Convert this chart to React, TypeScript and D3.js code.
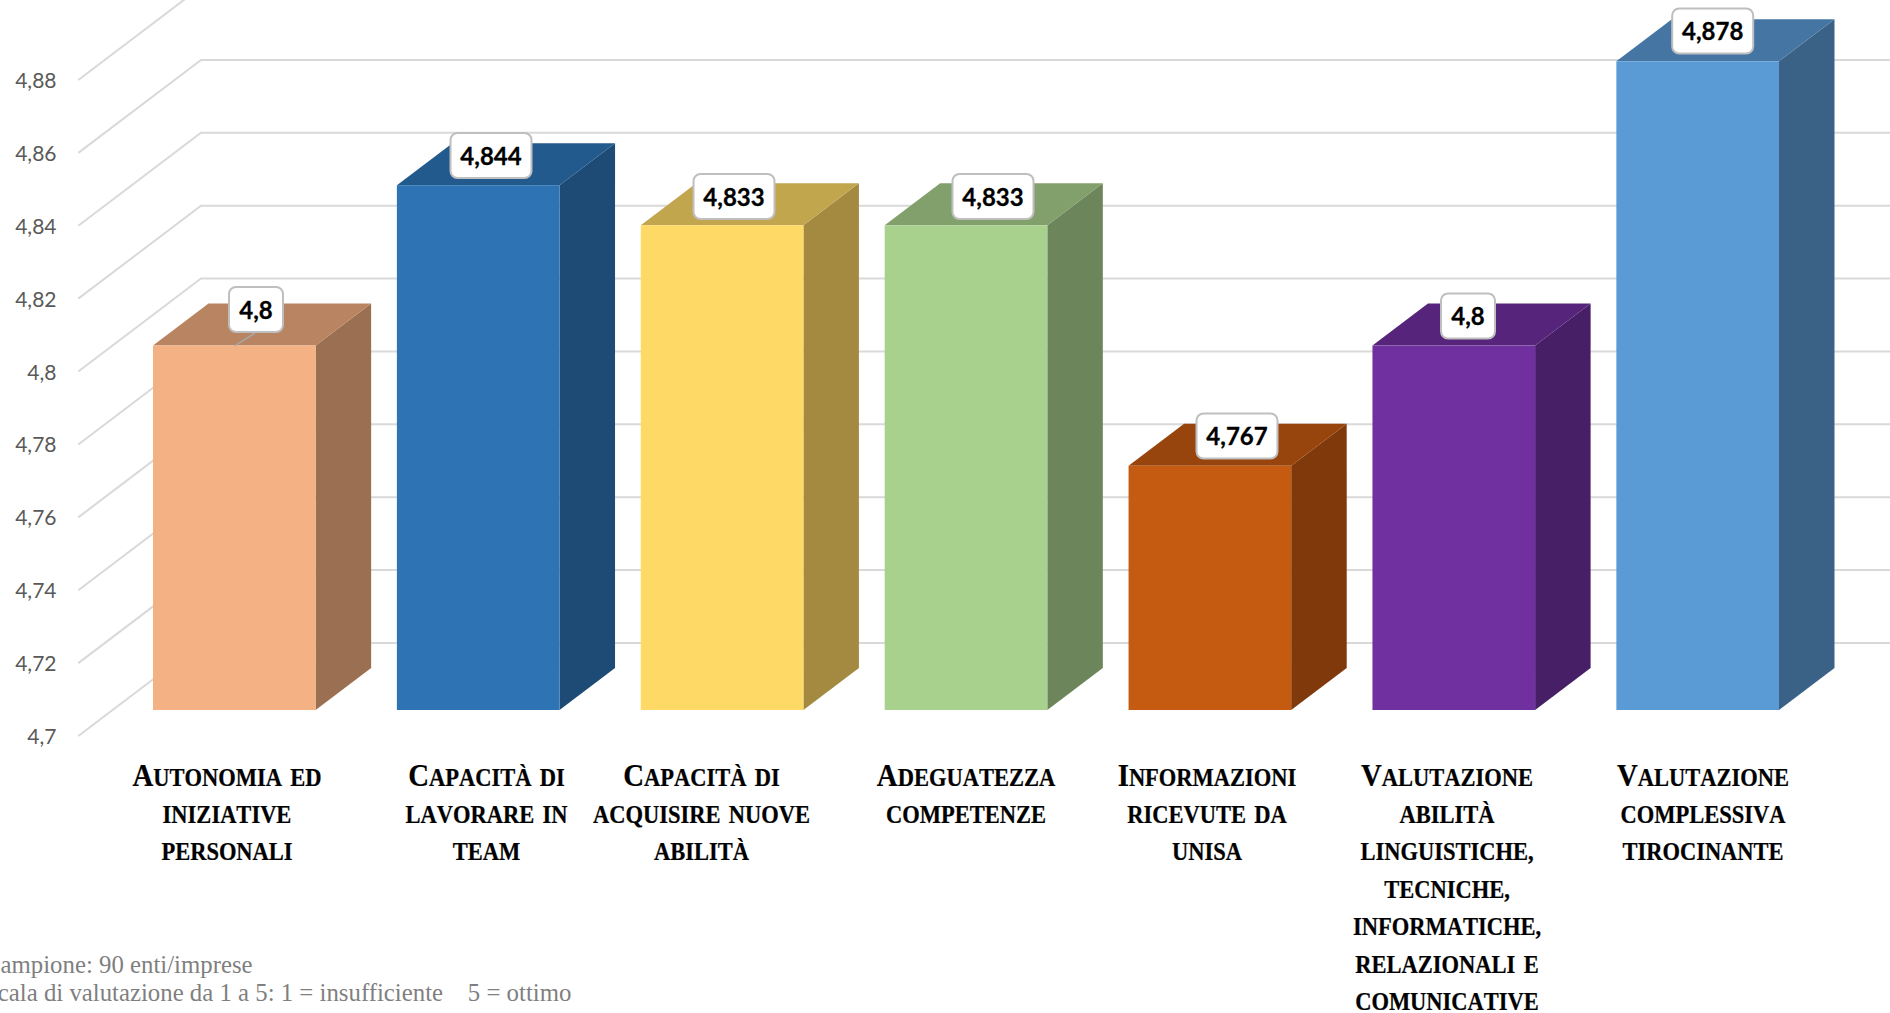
import React from "react";
import * as d3 from "d3";

const categories = [
  ["Autonomia ed", "iniziative", "personali"],
  ["Capacità di", "lavorare in", "team"],
  ["Capacità di", "acquisire nuove", "abilità"],
  ["Adeguatezza", "competenze"],
  ["Informazioni", "ricevute da", "unisa"],
  ["Valutazione", "abilità", "linguistiche,", "tecniche,", "informatiche,", "relazionali e", "comunicative"],
  ["Valutazione", "complessiva", "tirocinante"],
];
const values = [4.8, 4.844, 4.833, 4.833, 4.767, 4.8, 4.878];
const valueLabels = ["4,8", "4,844", "4,833", "4,833", "4,767", "4,8", "4,878"];
const tickValues = [4.7, 4.72, 4.74, 4.76, 4.78, 4.8, 4.82, 4.84, 4.86, 4.88];
const tickLabels = ["4,7", "4,72", "4,74", "4,76", "4,78", "4,8", "4,82", "4,84", "4,86", "4,88"];
const footnotes = ["Campione: 90 enti/imprese", "Scala di valutazione da 1 a 5: 1 = insufficiente    5 = ottimo"];

const faceColors = ["#F4B183", "#2E74B5", "#FFD966", "#A9D18E", "#C55A11", "#7030A0", "#5B9BD5"];
const topColors = ["#B98461", "#225A8D", "#C1A64E", "#82A06C", "#97450D", "#56247A", "#4576A3"];
const sideColors = ["#9B7052", "#1E4B76", "#A38A40", "#6C855A", "#7F390B", "#471F66", "#3A6286"];

// Layout (hand-placed elements in the source chart)
const labelCenters = [227, 486.5, 701.5, 966, 1207, 1447, 1703];
const boxCenters: [number, number][] = [[256, 309.5], [491, 155.5], [734, 196.5], [993, 196.5], [1237, 436], [1468, 316], [1712.7, 31]];

const W = 1890, H = 1013;
const yAxis = d3.scaleLinear().domain([4.7, 4.88]).range([736, 80]);
const yFace = d3.scaleLinear().domain([4.7, 4.88]).range([710, 54]);
const x = d3.scaleBand<number>().domain(d3.range(values.length)).range([153, 1779]).paddingInner(1 - 162.5 / 243.67);
const axisX = 78.3, backX = 201, axisRise = 93;
const depthX = 55.5, depthY = 42;
const line = d3.line();

const BIG = 32, SMALL = 25;

function SmallCaps({ text }: { text: string }) {
  const chars = Array.from(text);
  return (
    <>
      {chars.map((c, i) => {
        const upper = c === c.toUpperCase() && c !== c.toLowerCase();
        return <tspan key={i} fontSize={upper ? BIG : SMALL}>{c.toUpperCase()}</tspan>;
      })}
    </>
  );
}

export default function App() {
  const bw = x.bandwidth();
  return (
    <svg width={W} height={H} viewBox={`0 0 ${W} ${H}`} style={{ position: "absolute", left: 0, top: 0, display: "block", background: "#fff" }}>
      {tickValues.map((v, i) => {
        const yf = yAxis(v);
        return (
          <g key={v}>
            <path d={line([[axisX, yf], [backX, yf - axisRise], [W, yf - axisRise]])!} fill="none" stroke="#D9D9D9" strokeWidth={2} />
            <text x={56.5} y={yf + 8} textAnchor="end" fontFamily="Lato" fontSize={21} fill="#595959">{tickLabels[i]}</text>
          </g>
        );
      })}
      {values.map((v, i) => {
        const x0 = x(i)!, x1 = x0 + bw, yt = yFace(v), yb = yFace(4.7);
        return (
          <g key={i}>
            <path d={line([[x1, yt], [x1 + depthX, yt - depthY], [x1 + depthX, yb - depthY], [x1, yb]])! + "Z"} fill={sideColors[i]} />
            <path d={line([[x0, yt], [x0 + depthX, yt - depthY], [x1 + depthX, yt - depthY], [x1, yt]])! + "Z"} fill={topColors[i]} />
            <rect x={x0} y={yt} width={bw} height={yb - yt} fill={faceColors[i]} />
          </g>
        );
      })}
      <path d={line([[235, yFace(values[0])], [255, 333]])!} stroke="#A6A6A6" strokeWidth={1.5} fill="none" />
      {valueLabels.map((t, i) => {
        const [cx, cy] = boxCenters[i];
        const w = t.length > 3 ? 81 : 54, h = 45;
        return (
          <g key={i}>
            <rect x={cx - w / 2} y={cy - h / 2} width={w} height={h} rx={7} fill="#fff" stroke="#BFBFBF" strokeWidth={2} />
            <text x={cx} y={cy + 9} textAnchor="middle" fontFamily="Lato" fontWeight={700} fontSize={24} fill="#000" stroke="#000" strokeWidth={0.3}>{t}</text>
          </g>
        );
      })}
      {categories.map((lines, i) =>
        lines.map((l, j) => (
          <text key={`${i}-${j}`} transform={`translate(${labelCenters[i]},${785.5 + j * 37.4}) scale(0.9,1)`} textAnchor="middle" fontFamily="Liberation Serif" fontWeight={700} fill="#000" stroke="#000" strokeWidth={0.25} wordSpacing={3}>
            <SmallCaps text={l} />
          </text>
        ))
      )}
      {footnotes.map((t, i) => (
        <text key={i} x={-16} y={973 + i * 28.3} fontFamily="Liberation Serif" fontSize={24.8} fill="#7F7F7F" xmlSpace="preserve" style={{ whiteSpace: "pre" }}>{t}</text>
      ))}
    </svg>
  );
}
